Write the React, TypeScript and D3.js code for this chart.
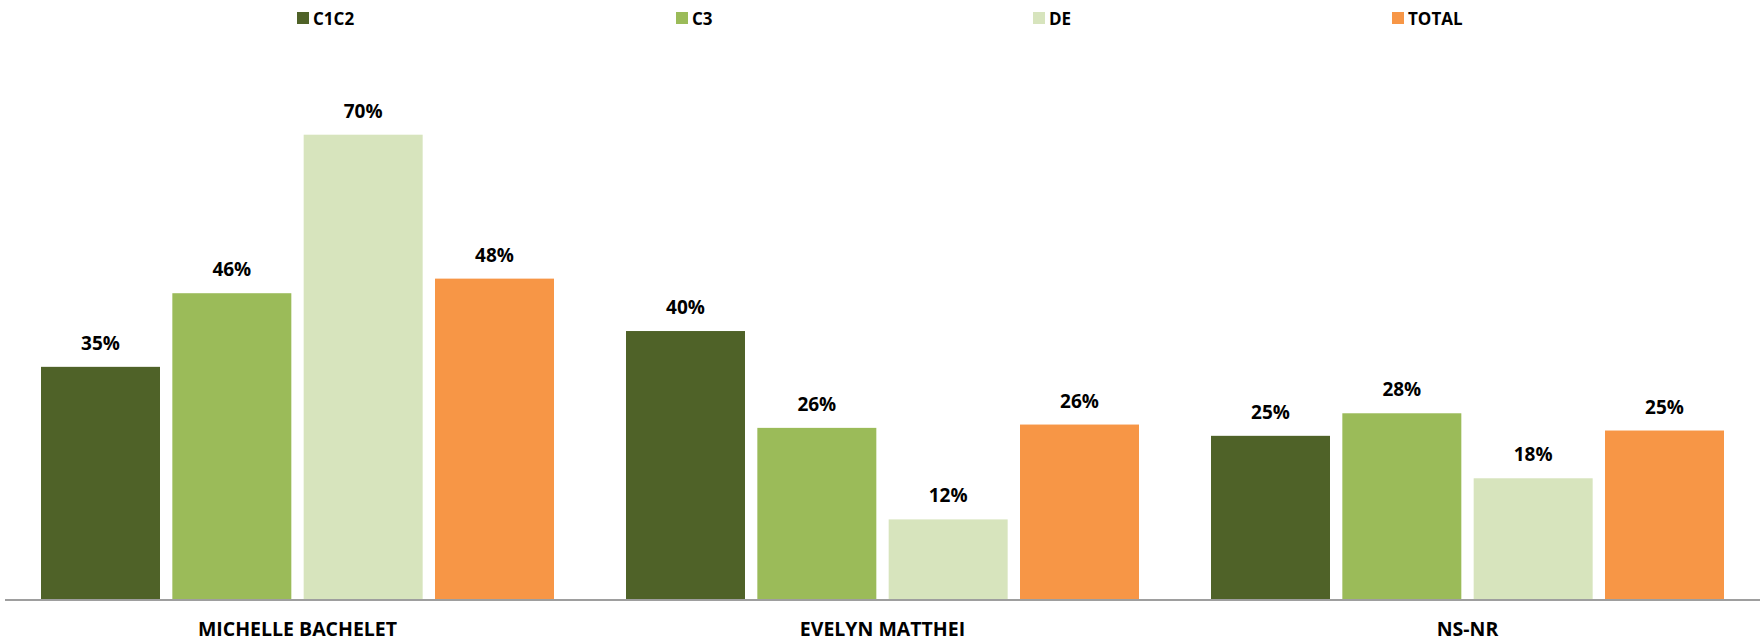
import React from "react";
import * as d3 from "d3";

const categories = ["MICHELLE BACHELET", "EVELYN MATTHEI", "NS-NR"];
const seriesNames = ["C1C2", "C3", "DE", "TOTAL"];
const c1c2 = [35.0, 40.4, 24.6];
const c3 = [46.1, 25.8, 28.0];
const de = [70.0, 12.0, 18.2];
const total = [48.3, 26.3, 25.4];
const seriesValues = [c1c2, c3, de, total];
const colors = ["#4F6228", "#9BBB59", "#D7E4BD", "#F79646"];
const legendX = [297, 676, 1033, 1392];

const W = 1760;
const H = 640;
const FONT = "'Open Sans', Lato, sans-serif";

export default function App() {
  const x0 = d3.scaleBand<string>().domain(categories).range([5, 1760]).paddingInner(0).paddingOuter(0);
  const x1 = d3
    .scaleBand<string>()
    .domain(seriesNames)
    .range([36, x0.bandwidth() - 36])
    .paddingInner(0.094)
    .paddingOuter(0);
  const y = d3.scaleLinear().domain([0, 80]).range([599, 599 - 80 * 6.633]);

  return (
    <svg
      width={W}
      height={H}
      style={{ position: "absolute", left: 0, top: 0, display: "block", background: "#fff" }}
      fontFamily={FONT}
    >
      {/* legend */}
      {seriesNames.map((s, i) => (
        <g key={s}>
          <rect x={legendX[i]} y={12} width={12} height={12} fill={colors[i]} />
          <text x={legendX[i] + 16} y={24.5} fontSize={17} fontWeight={700} fill="#000">
            {s}
          </text>
        </g>
      ))}
      {/* bars */}
      {categories.map((c, ci) => (
        <g key={c} transform={`translate(${x0(c)},0)`}>
          {seriesNames.map((s, si) => {
            const v = seriesValues[si][ci];
            const bx = x1(s) as number;
            return (
              <g key={s}>
                <rect x={bx} y={y(v)} width={x1.bandwidth()} height={y(0) - y(v)} fill={colors[si]} />
                <text
                  x={bx + x1.bandwidth() / 2}
                  y={y(v) - 17}
                  textAnchor="middle"
                  fontSize={19}
                  fontWeight={700}
                  fill="#000"
                >
                  {Math.round(v) + "%"}
                </text>
              </g>
            );
          })}
          <text
            x={x0.bandwidth() / 2}
            y={635.5}
            textAnchor="middle"
            fontSize={19.5}
            fontWeight={700}
            fill="#000"
          >
            {c}
          </text>
        </g>
      ))}
      {/* axis */}
      <line x1={5} x2={1760} y1={600} y2={600} stroke="#9E9E9E" strokeWidth={2} />
    </svg>
  );
}
